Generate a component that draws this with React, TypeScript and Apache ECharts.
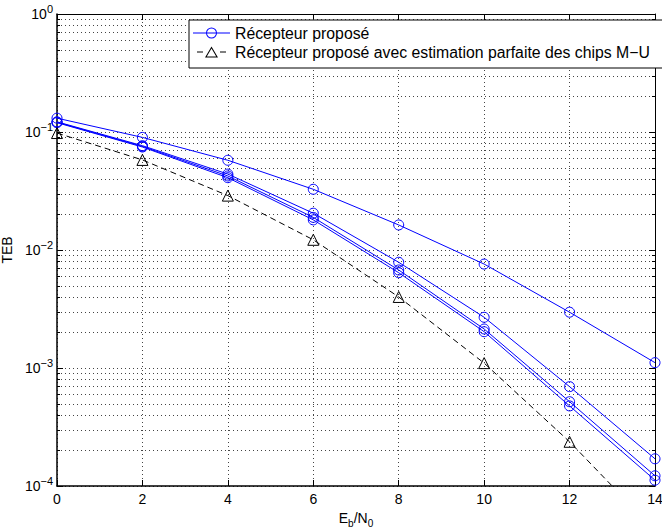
import React, { useEffect, useRef } from "react";
import * as echarts from "echarts";

const FONT = "'Liberation Sans', Arial, Helvetica, sans-serif";

const ebn0 = [0, 2, 4, 6, 8, 10, 12, 14];
const proposedA = [0.131, 0.090, 0.0576, 0.0327, 0.0163, 0.0076, 0.00297, 0.00111];
const proposedB = [0.122, 0.0766, 0.0440, 0.0205, 0.00787, 0.00269, 0.000695, 0.000170];
const proposedC = [0.121, 0.0755, 0.0424, 0.0189, 0.00677, 0.00214, 0.000518, 0.000122];
const proposedD = [0.120, 0.0746, 0.0410, 0.0180, 0.00642, 0.00203, 0.000477, 0.000112];
const perfectChips = [0.098, 0.058, 0.0289, 0.0122, 0.0040, 0.0011, 0.000237, 0.000042];

const nameProposed = "Récepteur proposé";
const namePerfect = "Récepteur proposé avec estimation parfaite des chips M−U";

const yMin = 1e-4;
const yMax = 1;
const xMin = 0;
const xMax = 14;
const xStep = 2;
const minorMantissas = [2, 3, 4, 5, 6, 7, 8, 9];
const decades = [-4, -3, -2, -1];

// legend icons: line through hollow circle; dashes around hollow triangle
const iconCircle =
  "path://M0,5 L37,5 L37,6 L0,6 Z " +
  "M13,5.5 A5.5,5.5 0 1 1 24,5.5 A5.5,5.5 0 1 1 13,5.5 Z " +
  "M14,5.5 A4.5,4.5 0 1 0 23,5.5 A4.5,4.5 0 1 0 14,5.5 Z";
const iconTriangle =
  "path://M4,5 L10,5 L10,6 L4,6 Z M27,5 L33,5 L33,6 L27,6 Z " +
  "M0,11 L0,10.99 L0.01,10.99 Z M37,0 L36.99,0 L36.99,0.01 Z " +
  "M18.5,0 L25,11 L12,11 Z M18.5,2 L13.8,10 L23.2,10 Z";

export default function App() {
  const ref = useRef<HTMLDivElement>(null);
  useEffect(() => {
    if (!ref.current) return;
    const chart = echarts.init(ref.current, null, { renderer: "svg" });
    const pair = (ys: number[]) => ebn0.map((x, i) => [x, ys[i]]);
    const minorVals: number[][] = [];
    decades.forEach((d) =>
      minorMantissas.forEach((m) => minorVals.push([xMin, m * Math.pow(10, d)]))
    );
    const blueSeries = (ys: number[]) => ({
      type: "line",
      name: nameProposed,
      data: pair(ys),
      symbol: "circle",
      symbolSize: 10,
      showSymbol: true,
      clip: true,
      lineStyle: { color: "#0000ff", width: 1 },
      itemStyle: { color: "rgba(0,0,0,0)", borderColor: "#0000ff", borderWidth: 1 },
      z: 3,
    });
    const option: any = {
      animation: false,
      backgroundColor: "#fff",
      textStyle: { fontFamily: FONT },
      grid: {
        left: 57,
        right: 7,
        top: 14,
        bottom: 42,
        containLabel: false,
        outerBoundsMode: "none",
      },
      legend: {
        data: [
          { name: nameProposed, icon: iconCircle, itemStyle: { color: "#0000ff", borderWidth: 0 } },
          { name: namePerfect, icon: iconTriangle, itemStyle: { color: "#000000", borderWidth: 0 } },
        ],
        orient: "vertical",
        left: 189,
        top: 20,
        itemWidth: 37,
        itemHeight: 11,
        itemGap: 3,
        padding: [5, 20, 8, 4],
        backgroundColor: "#fff",
        borderColor: "#000",
        borderWidth: 1,
        borderRadius: 0,
        textStyle: { fontSize: 15.8, color: "#000", fontFamily: FONT },
        selectedMode: false,
      },
      xAxis: [
        {
          type: "value",
          min: xMin,
          max: xMax,
          interval: xStep,
          position: "bottom",
          name: "{e|E}{s|b}{e|/N}{s|0}",
          nameLocation: "middle",
          nameGap: 12,
          nameTextStyle: {
            fontSize: 14,
            color: "#000",
            rich: {
              e: { fontSize: 14, color: "#000", fontFamily: FONT },
              s: { fontSize: 10, color: "#000", fontFamily: FONT, padding: [12, 0, 0, 0] },
            },
          },
          axisLine: { show: true, onZero: false, lineStyle: { color: "#000", width: 1.5 } },
          axisTick: { show: true, inside: true, length: 6, lineStyle: { color: "#000" } },
          axisLabel: { fontSize: 14, color: "#000", margin: 6, fontFamily: FONT },
          splitLine: { show: true, lineStyle: { color: "#444", width: 1, type: [1, 3] } },
        },
        {
          type: "value",
          min: xMin,
          max: xMax,
          interval: xStep,
          position: "top",
          axisLine: { show: true, onZero: false, lineStyle: { color: "#000", width: 1 } },
          axisTick: { show: true, inside: true, length: 6, lineStyle: { color: "#000" } },
          axisLabel: { show: false },
          splitLine: { show: false },
        },
      ],
      yAxis: [
        {
          type: "log",
          logBase: 10,
          min: yMin,
          max: yMax,
          position: "left",
          name: "TEB",
          nameLocation: "middle",
          nameGap: 34,
          nameTextStyle: { fontSize: 14, color: "#000", fontFamily: FONT },
          axisLine: { show: true, onZero: false, lineStyle: { color: "#000", width: 1.5 } },
          axisTick: { show: true, inside: true, length: 6, lineStyle: { color: "#000" } },
          axisLabel: {
            margin: 4,
            fontSize: 14,
            color: "#000",
            fontFamily: FONT,
            formatter: (v: number) => {
              const e = Math.round(Math.log10(v));
              const sup = e === 0 ? "0" : (e < 0 ? "−" : "") + Math.abs(e);
              return "{ten|10}{sup|" + sup + "}";
            },
            rich: {
              ten: { fontSize: 14, color: "#000", fontFamily: FONT },
              sup: { fontSize: 11, color: "#000", fontFamily: FONT, padding: [0, 0, 10, 0] },
            },
          },
          splitLine: { show: true, lineStyle: { color: "#444", width: 1, type: [1, 3] } },
        },
        {
          type: "log",
          logBase: 10,
          min: yMin,
          max: yMax,
          position: "right",
          axisLine: { show: true, onZero: false, lineStyle: { color: "#000", width: 1 } },
          axisTick: { show: true, inside: true, length: 6, lineStyle: { color: "#000" } },
          axisLabel: { show: false },
          splitLine: { show: false },
        },
      ],
      series: [
        {
          type: "custom",
          name: "minorGrid",
          xAxisIndex: 0,
          yAxisIndex: 0,
          data: minorVals,
          silent: true,
          z: 1,
          renderItem: (params: any, api: any) => {
            const p = api.coord([api.value(0), api.value(1)]);
            const cs = params.coordSys;
            const x0 = cs.x;
            const x1 = cs.x + cs.width;
            const y = Math.round(p[1]) + 0.5;
            return {
              type: "group",
              children: [
                {
                  type: "line",
                  shape: { x1: x0, y1: y, x2: x1, y2: y },
                  style: { stroke: "#444", lineWidth: 1, lineDash: [1, 3] },
                },
                {
                  type: "line",
                  shape: { x1: x0, y1: y, x2: x0 + 3, y2: y },
                  style: { stroke: "#000", lineWidth: 1 },
                },
                {
                  type: "line",
                  shape: { x1: x1 - 3, y1: y, x2: x1, y2: y },
                  style: { stroke: "#000", lineWidth: 1 },
                },
              ],
            };
          },
        },
        blueSeries(proposedA),
        blueSeries(proposedB),
        blueSeries(proposedC),
        blueSeries(proposedD),
        {
          type: "line",
          name: namePerfect,
          data: pair(perfectChips),
          symbol: "triangle",
          symbolSize: 11,
          showSymbol: true,
          clip: true,
          lineStyle: { color: "#000", width: 1, type: [6, 4] },
          itemStyle: { color: "rgba(0,0,0,0)", borderColor: "#000", borderWidth: 1 },
          z: 3,
        },
      ],
    };
    chart.setOption(option);
    return () => chart.dispose();
  }, []);
  return (
    <div
      ref={ref}
      style={{ position: "fixed", left: 0, top: 0, width: 662, height: 528, background: "#fff" }}
    />
  );
}
